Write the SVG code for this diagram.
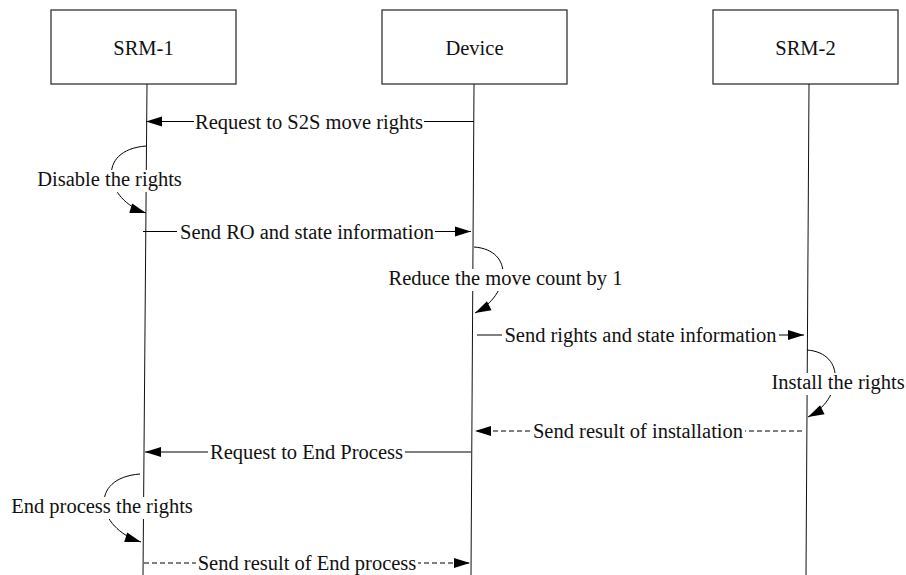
<svg xmlns="http://www.w3.org/2000/svg" width="906" height="575" viewBox="0 0 906 575">
<defs>
<marker id="ah" markerUnits="userSpaceOnUse" markerWidth="16" markerHeight="10" refX="16" refY="5" orient="auto" overflow="visible">
<path d="M0,0 L16,5 L0,10 z" fill="#000"/>
</marker>
<style>
.box{fill:#fff;stroke:#222;stroke-width:1.2}
.life{stroke:#111;stroke-width:1;fill:none}
.msg{stroke:#000;stroke-width:1;fill:none}
.dash{stroke-dasharray:5,3}
.loop{stroke:#000;stroke-width:1;fill:none}
.bg{fill:#fff;stroke:none}
text{font-family:"Liberation Serif","Times New Roman",serif;font-size:20.5px;fill:#111;text-anchor:middle}
</style>
</defs>
<rect width="906" height="575" fill="#fff"/>
<g id="srm1">
<rect class="box" x="51" y="10" width="185" height="74"/>
<text x="143.5" y="55">SRM-1</text>
<line class="life" x1="147" y1="84" x2="143" y2="575"/>
</g>
<g id="device">
<rect class="box" x="382" y="10" width="185" height="74"/>
<text x="474.5" y="55">Device</text>
<line class="life" x1="474" y1="84" x2="471" y2="575"/>
</g>
<g id="srm2">
<rect class="box" x="713" y="10" width="185" height="74"/>
<text x="805.5" y="55">SRM-2</text>
<line class="life" x1="809" y1="84" x2="806" y2="575"/>
</g>
<g id="connectors">
<line class="msg" x1="474" y1="121.5" x2="146" y2="121.5" marker-end="url(#ah)"/>
<path class="loop" d="M146,146 C95,150 105,200 146,213" marker-end="url(#ah)"/>
<line class="msg" x1="143" y1="231.5" x2="471" y2="231.5" marker-end="url(#ah)"/>
<path class="loop" d="M474,247 C515,250 510,295 475,313" marker-end="url(#ah)"/>
<line class="msg" x1="477" y1="335" x2="804" y2="335" marker-end="url(#ah)"/>
<path class="loop" d="M807,350 C847,353 842,400 808,417" marker-end="url(#ah)"/>
<line class="msg dash" x1="802" y1="431" x2="475" y2="431" marker-end="url(#ah)"/>
<line class="msg" x1="471" y1="452" x2="145" y2="452" marker-end="url(#ah)"/>
<path class="loop" d="M140,474 C88,478 96,528 141,542" marker-end="url(#ah)"/>
<line class="msg dash" x1="144" y1="563" x2="470" y2="563" marker-end="url(#ah)"/>

<rect class="bg" x="194" y="112" width="230" height="20"/>
<text x="309" y="128.5">Request to S2S move rights</text>
<rect class="bg" x="36" y="170" width="147" height="22"/>
<text x="109.5" y="186">Disable the rights</text>
<rect class="bg" x="177" y="222" width="258" height="20"/>
<text x="307" y="238.5">Send RO and state information</text>
<rect class="bg" x="387" y="269" width="237" height="22"/>
<text x="505.5" y="285">Reduce the move count by 1</text>
<rect class="bg" x="502" y="326" width="277" height="20"/>
<text x="640.5" y="342">Send rights and state information</text>
<rect class="bg" x="770" y="373" width="136" height="22"/>
<text x="838" y="389">Install the rights</text>
<rect class="bg" x="531" y="422" width="214" height="20"/>
<text x="638" y="438">Send result of installation</text>
<rect class="bg" x="208" y="443" width="197" height="20"/>
<text x="306.5" y="459">Request to End Process</text>
<rect class="bg" x="10" y="497" width="184" height="22"/>
<text x="102" y="513">End process the rights</text>
<rect class="bg" x="196" y="554" width="222" height="20"/>
<text x="307" y="570">Send result of End process</text>
</g>
</svg>
